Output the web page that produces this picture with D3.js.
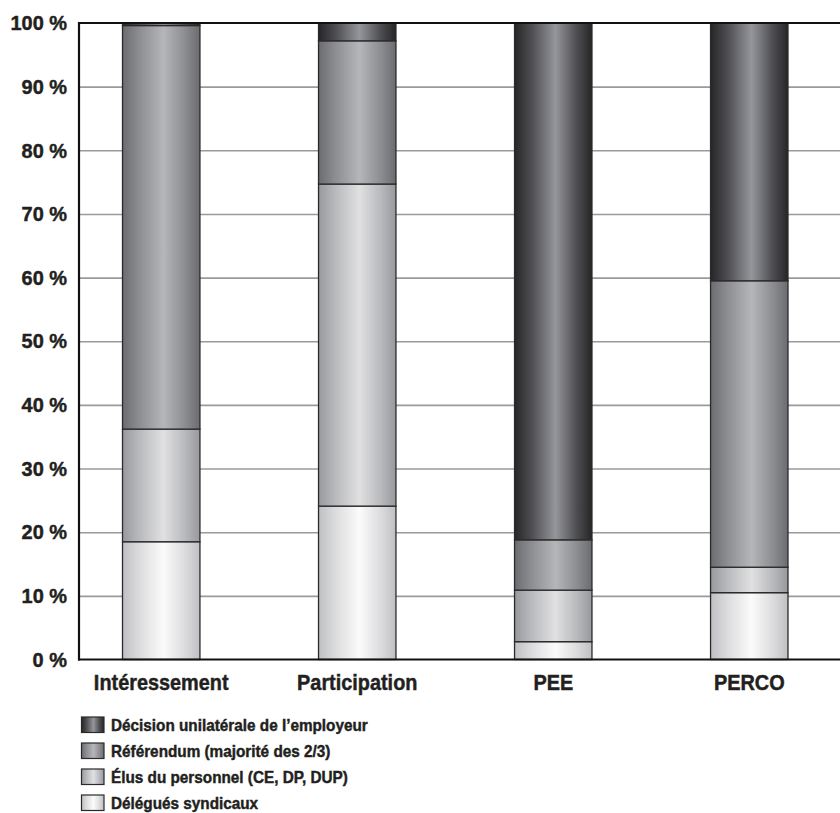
<!DOCTYPE html>
<html>
<head>
<meta charset="utf-8">
<script src="https://cdn.jsdelivr.net/npm/d3@7"></script>
<style>
  html, body { margin: 0; padding: 0; background: #fff; }
  svg { display: block; }
  text { font-family: "Liberation Sans", Arial, Helvetica, sans-serif; font-weight: bold; fill: #231f20; stroke: #231f20; stroke-width: 0.45px; }
</style>
</head>
<body>
<svg id="chart" width="840" height="813"></svg>
<script>
// Modes de mise en place des dispositifs d'épargne salariale (% des accords)
const categories = ["Intéressement", "Participation", "PEE", "PERCO"];
const seriesKeys = ["delegues", "elus", "referendum", "decision"];
const seriesLabels = [
  "Délégués syndicaux",
  "Élus du personnel (CE, DP, DUP)",
  "Référendum (majorité des 2/3)",
  "Décision unilatérale de l\u2019employeur"
];
const delegues   = [18.5, 24.1, 2.8, 10.5];
const elus       = [17.7, 50.6, 8.1, 4.0];
const referendum = [63.4, 22.5, 7.9, 45.0];
const decision   = [0.4, 2.8, 81.2, 40.5];
const yTicks = [0, 10, 20, 30, 40, 50, 60, 70, 80, 90, 100];

// cylinder-style shading per series: [edge, mid, highlight]
const shades = {
  delegues:   ["#bfc0c3", "#dcdcde", "#fbfbfb"],
  elus:       ["#98999d", "#b9babd", "#e0e0e1"],
  referendum: ["#6b6c70", "#8d8e92", "#b5b6b9"],
  decision:   ["#262526", "#4e4e52", "#95969b"]
};

const rows = categories.map((c, i) => ({
  category: c,
  delegues: delegues[i],
  elus: elus[i],
  referendum: referendum[i],
  decision: decision[i]
}));

// squeeze text horizontally to mimic a condensed bold face
function condense(sel, factor) {
  sel.each(function () {
    const w = this.getComputedTextLength();
    d3.select(this)
      .attr("textLength", w * factor)
      .attr("lengthAdjust", "spacingAndGlyphs");
  });
}

const svg = d3.select("#chart");
const plotLeft = 79, plotRight = 840, plotTop = 23, plotBottom = 659.5;

const x = d3.scaleBand()
  .domain(categories)
  .range([plotLeft, 831.5])
  .paddingInner(0.605)
  .paddingOuter(0.222);

const y = d3.scaleLinear().domain([0, 100]).range([plotBottom, plotTop]);

// gradients
const defs = svg.append("defs");
seriesKeys.forEach(k => {
  const [e, m, h] = shades[k];
  const g = defs.append("linearGradient")
    .attr("id", "grad-" + k)
    .attr("x1", "0%").attr("x2", "100%").attr("y1", "0%").attr("y2", "0%");
  [[0, e], [0.22, m], [0.53, h], [0.8, m], [1, e]].forEach(([o, c]) =>
    g.append("stop").attr("offset", o).attr("stop-color", c));
});

// horizontal gridlines + y labels
const yAxis = d3.axisLeft(y)
  .tickValues(yTicks)
  .tickSize(-(plotRight - plotLeft))
  .tickPadding(12)
  .tickFormat(d => d + " %");

const gy = svg.append("g")
  .attr("transform", `translate(${plotLeft},0)`)
  .call(yAxis);
gy.select(".domain").remove();
gy.selectAll(".tick line")
  .attr("stroke", "#9a9a9a")
  .attr("stroke-width", 1.6)
  .attr("display", d => (d === 0 || d === 100) ? "none" : null);
gy.selectAll(".tick text")
  .attr("font-family", null)
  .attr("font-size", null)
  .style("font-size", "21px");
condense(gy.selectAll(".tick text"), 0.95);

// stacked bars
const stack = d3.stack().keys(seriesKeys);
const layers = stack(rows);

const barG = svg.append("g");
layers.forEach(layer => {
  barG.append("g")
    .selectAll("rect")
    .data(layer)
    .join("rect")
    .attr("x", d => x(d.data.category))
    .attr("width", x.bandwidth())
    .attr("y", d => y(d[1]))
    .attr("height", d => y(d[0]) - y(d[1]))
    .attr("fill", `url(#grad-${layer.key})`)
    .attr("stroke", "#2b2a2b")
    .attr("stroke-width", 1.3);
});

// frame: top, left and bottom rules
svg.append("line")
  .attr("x1", plotLeft).attr("x2", plotRight).attr("y1", plotTop).attr("y2", plotTop)
  .attr("stroke", "#111").attr("stroke-width", 2.2);
svg.append("line")
  .attr("x1", plotLeft).attr("x2", plotLeft).attr("y1", plotTop - 1).attr("y2", plotBottom + 1)
  .attr("stroke", "#111").attr("stroke-width", 2.2);

const xAxis = d3.axisBottom(x).tickSize(0).tickPadding(15);
const gx = svg.append("g")
  .attr("transform", `translate(0,${plotBottom})`)
  .call(xAxis);
gx.select(".domain").remove();
gx.selectAll(".tick text")
  .attr("font-family", null)
  .attr("font-size", null)
  .style("font-size", "21.6px");
condense(gx.selectAll(".tick text"), 0.92);
svg.append("line")
  .attr("x1", plotLeft - 1).attr("x2", plotRight).attr("y1", plotBottom).attr("y2", plotBottom)
  .attr("stroke", "#111").attr("stroke-width", 2.2);

// legend (top row = top segment)
const legendKeys = seriesKeys.slice().reverse();
const legendLabels = seriesLabels.slice().reverse();
const legend = svg.append("g").attr("transform", "translate(81.5,717)");
legendKeys.forEach((k, i) => {
  const row = legend.append("g").attr("transform", `translate(0,${i * 26})`);
  row.append("rect")
    .attr("width", 22.5).attr("height", 15.5)
    .attr("fill", `url(#grad-${k})`)
    .attr("stroke", "#2b2a2b").attr("stroke-width", 1.2);
  row.append("text")
    .attr("x", 29.5).attr("y", 14)
    .style("font-size", "17px")
    .text(legendLabels[i]);
});
condense(legend.selectAll("text"), 0.9);
</script>
</body>
</html>
